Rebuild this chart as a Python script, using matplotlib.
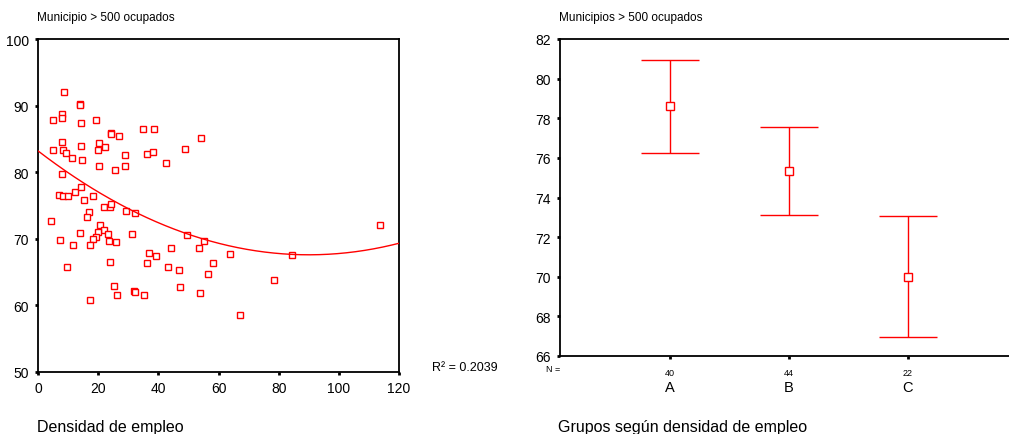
import numpy as np
import matplotlib
matplotlib.use("Agg")
import matplotlib.pyplot as plt

plt.rcParams['font.family'] = ['Liberation Sans', 'DejaVu Sans']

# Densidad de empleo (x) vs valor (y)
dens = [8.8, 13.8, 13.8, 8.0, 8.0, 4.9, 14.2, 19.3, 8.0, 14.2, 20.4, 22.4, 20.1, 4.9, 8.4,
        9.3, 11.2, 14.7, 24.2, 24.4, 26.8, 28.8, 28.8, 20.4, 25.7, 8.0, 35.0, 38.6, 36.2,
        38.2, 42.4, 48.7, 54.2,
        6.9, 8.4, 10.0, 12.3, 14.2, 15.4, 18.2, 17.0, 16.2, 22.1, 24.0, 24.4, 29.1, 32.1,
        4.4, 13.9, 7.3, 11.7, 20.6, 21.8, 20.1, 23.2, 19.4, 18.4, 23.6, 26.0, 17.3, 31.4,
        9.6, 24.0, 25.2, 26.3, 32.0, 32.1, 35.3, 17.3, 37.0, 39.2, 36.1, 44.1, 43.2, 46.8,
        47.2, 49.6, 53.4, 55.3, 58.1, 56.6, 53.9, 113.8, 63.7, 78.4, 67.1, 84.3]
valor = [92.0, 90.3, 90.1, 88.7, 88.1, 87.8, 87.4, 87.8, 84.6, 84.0, 84.4, 83.8, 83.3, 83.3, 83.3,
         82.9, 82.2, 81.9, 85.9, 85.7, 85.4, 82.6, 81.0, 81.0, 80.3, 79.8, 86.5, 86.5, 82.8,
         83.0, 81.4, 83.5, 85.2,
         76.6, 76.4, 76.4, 77.1, 77.8, 75.8, 76.5, 74.0, 73.3, 74.7, 74.8, 75.3, 74.2, 73.9,
         72.7, 70.9, 69.8, 69.1, 72.0, 71.3, 71.0, 70.7, 70.2, 70.0, 69.6, 69.5, 69.0, 70.7,
         65.8, 66.5, 62.9, 61.5, 62.2, 62.0, 61.6, 60.8, 67.9, 67.4, 66.3, 68.6, 65.7, 65.3,
         62.7, 70.5, 68.6, 69.6, 66.3, 64.7, 61.9, 72.1, 67.7, 63.8, 58.5, 67.5]

# ajuste cuadratico (coeficientes)
coef = [0.001926, -0.3467, 83.2]
r2_text = "R² = 0.2039"

# grupos
grupos = ["A", "B", "C"]
n_grupo = ["40", "44", "22"]
media = [78.62, 75.33, 70.0]
ic_sup = [80.94, 77.56, 73.05]
ic_inf = [76.24, 73.1, 66.97]

red = "#ff0000"

fig = plt.figure(figsize=(10.09, 4.35), dpi=100)

# ---- panel izquierdo ----
ax1 = fig.add_axes([38/1009, 1-373/435, 361/1009, 333/435])
ax1.plot(dens, valor, ls="none", marker="s", ms=4.3, mfc="white", mec=red, mew=1.0, zorder=2)
xs = np.linspace(0, 120, 200)
ax1.plot(xs, np.polyval(coef, xs), color=red, lw=1.0, zorder=3)
ax1.set_xlim(0, 120)
ax1.set_ylim(50, 100)
ax1.set_xticks([0, 20, 40, 60, 80, 100, 120])
ax1.set_yticks([50, 60, 70, 80, 90, 100])
for s in ax1.spines.values():
    s.set_linewidth(1.3)
ax1.tick_params(length=2.5, width=2, direction="out", labelsize=10, pad=4)
fig.text(432/1009, 1-368/435, r2_text, fontsize=9, va="center", ha="left")
fig.text(37/1009, 1-18/435, "Municipio > 500 ocupados", fontsize=8.5, va="center")
fig.text(37/1009, 1-428/435, "Densidad de empleo", fontsize=11.5, va="center")

# ---- panel derecho ----
ax2 = fig.add_axes([560/1009, 1-357/435, 1-560/1009, 317/435])
pos = np.arange(1, len(grupos) + 1)
yerr = [np.array(media) - np.array(ic_inf), np.array(ic_sup) - np.array(media)]
ax2.errorbar(pos, media, yerr=yerr, fmt="s", ms=5.5, mfc="white", mec=red, mew=1.0,
             ecolor=red, elinewidth=1.0, capsize=21, capthick=1.0, color=red)
ax2.set_xlim(0.076, 3.85)
ax2.set_ylim(66, 82)
ax2.set_yticks(range(66, 83, 2))
ax2.set_xticks(pos)
ax2.set_xticklabels(n_grupo)
ax2.spines["right"].set_visible(False)
for s in ax2.spines.values():
    s.set_linewidth(1.3)
ax2.tick_params(length=2.5, width=2, direction="out", labelsize=10, pad=4)
ax2.tick_params(axis="x", labelsize=6.5, pad=6)
tr = ax2.get_xaxis_transform()
ax2.text(0.0, -0.038, "N =", transform=ax2.transAxes, fontsize=6.5, ha="right", va="center")
for p, g in zip(pos, grupos):
    ax2.text(p, -0.098, g, transform=tr, fontsize=10.5, ha="center", va="center")
fig.text(559/1009, 1-18/435, "Municipios > 500 ocupados", fontsize=8.5, va="center")
fig.text(558/1009, 1-428/435, "Grupos según densidad de empleo", fontsize=11.5, va="center")

fig.savefig("out.png", dpi=100)
